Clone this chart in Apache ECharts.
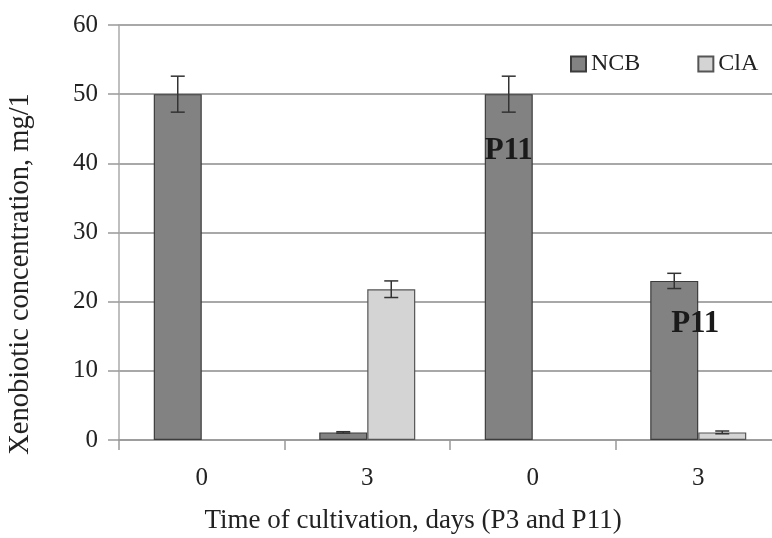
<!DOCTYPE html>
<html>
<head>
<meta charset="utf-8">
<script src="https://cdn.jsdelivr.net/npm/echarts@6/dist/echarts.min.js"></script>
<style>
html,body{margin:0;padding:0;background:#fff;}
#c{width:772px;height:538px;}
</style>
</head>
<body>
<div id="c"></div>
<script>
// ---- data ----
var categories = ['0', '3', '0', '3'];
var ncbValues = [50, 1.1, 50, 23.0];
var claValues = [0, 21.8, 0, 1.1];
var ncbErrors = [2.6, 0.1, 2.6, 1.1];
var claErrors = [0, 1.2, 0, 0.2];
var yTicks = [0, 10, 20, 30, 40, 50, 60];
var seriesNames = ['NCB', 'ClA'];
var annotationText = 'P11';
var xAxisTitle = 'Time of cultivation, days (P3 and P11)';
var yAxisTitle = 'Xenobiotic concentration, mg/1';

var FONT = '"Liberation Serif", "Times New Roman", serif';
var BAR_W = 48;

var chart = echarts.init(document.getElementById('c'), null, {renderer: 'canvas'});

function barData(vals, labels) {
  return vals.map(function (v, i) {
    var item = {value: v};
    if (v === 0) item.itemStyle = {borderWidth: 0};
    if (labels && labels[i]) item.label = labels[i];
    return item;
  });
}

var p11Style = {
  show: true, formatter: annotationText, fontFamily: FONT, fontWeight: 'bold',
  fontSize: 31, color: '#1a1a1a', align: 'center', verticalAlign: 'middle'
};
var ncbLabels = [null, null,
  Object.assign({}, p11Style, {position: ['50%', 57]}),
  Object.assign({}, p11Style, {position: [45, 43]})];

function errData(vals, errs, side) {
  var out = [];
  vals.forEach(function (v, i) {
    if (errs[i] > 0) out.push([i, v, errs[i], side]);
  });
  return out;
}

function renderErr(params, api) {
  var idx = api.value(0), v = api.value(1), e = api.value(2), side = api.value(3);
  var c = api.coord([idx, v]);
  var x = c[0] + side * BAR_W / 2;
  var yt = api.coord([idx, v + e])[1];
  var yb = api.coord([idx, v - e])[1];
  var st = {stroke: '#333', lineWidth: 1.5};
  return {
    type: 'group',
    children: [
      {type: 'line', shape: {x1: x, y1: yt, x2: x, y2: yb}, style: st},
      {type: 'line', shape: {x1: x - 7, y1: yt, x2: x + 7, y2: yt}, style: st},
      {type: 'line', shape: {x1: x - 7, y1: yb, x2: x + 7, y2: yb}, style: st}
    ]
  };
}

var option = {
  backgroundColor: '#ffffff',
  animation: false,
  grid: {left: 119, top: 25, width: 662, height: 415, outerBoundsMode: 'none', containLabel: false},
  legend: {
    data: seriesNames,
    left: 565, top: 47,
    icon: 'rect', itemWidth: 15, itemHeight: 15, itemGap: 57,
    textStyle: {fontFamily: FONT, fontSize: 24, color: '#222'}
  },
  xAxis: {
    type: 'category',
    data: categories,
    axisLine: {lineStyle: {color: '#999', width: 1.5}},
    axisTick: {show: true, length: 10, lineStyle: {color: '#999', width: 1.5}},
    axisLabel: {fontFamily: FONT, fontSize: 25, color: '#222', margin: 26}
  },
  yAxis: {
    type: 'value', min: yTicks[0], max: yTicks[yTicks.length - 1], interval: 10,
    axisLine: {show: true, lineStyle: {color: '#aaa', width: 1.5}},
    axisTick: {show: true, length: 11, lineStyle: {color: '#999', width: 1.5}},
    axisLabel: {fontFamily: FONT, fontSize: 25, color: '#222', margin: 21},
    splitLine: {lineStyle: {color: '#a8a8a8', width: 2}}
  },
  graphic: [
    {type: 'text', x: 413, y: 521, style: {text: xAxisTitle, font: '27px ' + FONT, fill: '#222', textAlign: 'center', textVerticalAlign: 'middle'}},
    {type: 'text', x: 21, y: 274, rotation: Math.PI / 2, style: {text: yAxisTitle, font: '28.5px ' + FONT, fill: '#222', textAlign: 'center', textVerticalAlign: 'middle'}}
  ],
  series: [
    {
      name: seriesNames[0], type: 'bar', barWidth: BAR_W, barGap: '0%',
      itemStyle: {color: '#828282', borderColor: '#3c3c3c', borderWidth: 1.2},
      data: barData(ncbValues, ncbLabels)
    },
    {
      name: seriesNames[1], type: 'bar', barWidth: BAR_W, barGap: '0%',
      itemStyle: {color: '#d4d4d4', borderColor: '#555', borderWidth: 1.2},
      data: barData(claValues, null)
    },
    {
      type: 'custom', renderItem: renderErr, z: 5, silent: true,
      data: errData(ncbValues, ncbErrors, -1)
    },
    {
      type: 'custom', renderItem: renderErr, z: 5, silent: true,
      data: errData(claValues, claErrors, 1)
    }
  ]
};
chart.setOption(option);
</script>
</body>
</html>
